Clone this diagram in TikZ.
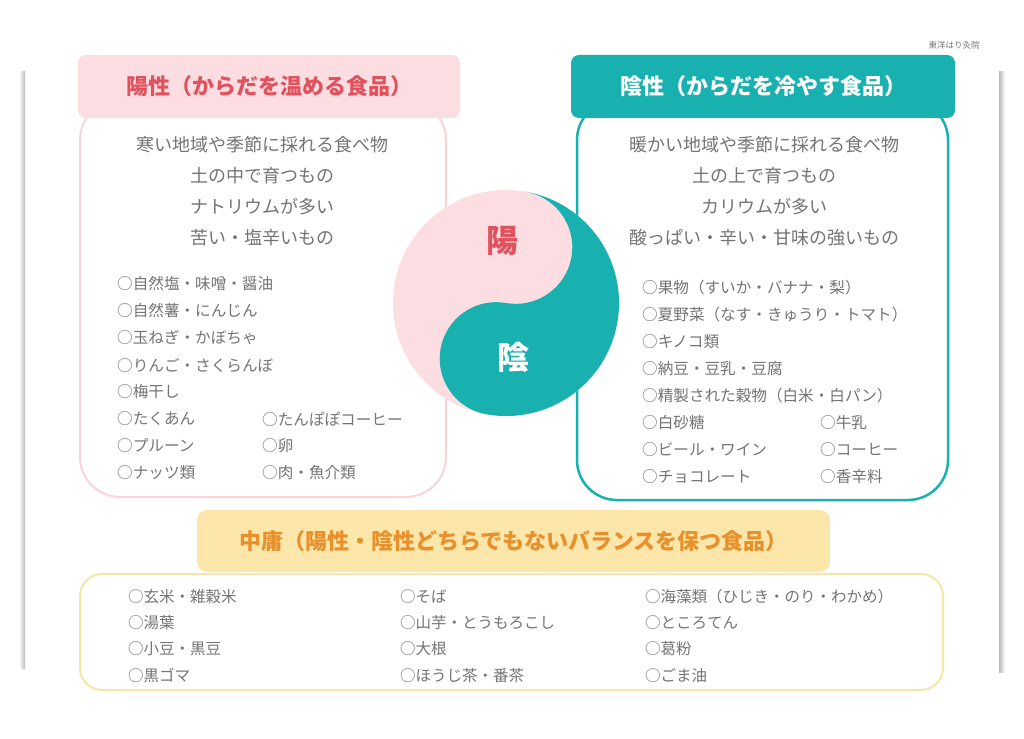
\documentclass[tikz,border=0pt]{standalone}
\usepackage{fontspec}
\setmainfont{Noto Sans CJK JP}
\definecolor{yangfill}{HTML}{FCDDE2}
\definecolor{yangline}{HTML}{F8D3DA}
\definecolor{yangtext}{HTML}{E0535E}
\definecolor{yinteal}{HTML}{18B1AF}
\definecolor{midfill}{HTML}{FDE6A9}
\definecolor{midline}{HTML}{F8E4A6}
\definecolor{midtext}{HTML}{E8902C}
\definecolor{textgray}{HTML}{747474}
\tikzset{
  headbox/.style={rounded corners=8pt,inner sep=0pt,font=\fontsize{22}{22}\selectfont\bfseries},
  bodybox/.style={draw,fill=white,line width=2pt,rounded corners=40pt,inner sep=0pt},
  leadline/.style={anchor=center,text=textgray,font=\fontsize{18}{18}\selectfont},
  item/.style={anchor=west,inner sep=0pt,text=textgray,font=\fontsize{15.6}{15.6}\selectfont},
}
\begin{document}
\begin{tikzpicture}[x=1pt,y=-1pt]
\useasboundingbox (0,0) rectangle (1024,738);
%% page shadow
\shade[left color=white,right color=gray!55] (19,72) rectangle (25,668);
\shade[left color=gray!55,right color=white] (999,72) rectangle (1005,672);
\node[anchor=center,text=textgray,font=\fontsize{8.5}{8.5}\selectfont] (brand) at (954,45) {東洋はり灸院};
%% Yang (left)
\node[bodybox,draw=yangline,minimum width=366pt,minimum height=397pt] (yangbody) at (263,298.5) {};
\node[headbox,fill=yangfill,text=yangtext,minimum width=382pt,minimum height=63pt] (yanghead) at (269,86.5) {陽性（からだを温める食品）};
\foreach \t [count=\i] in {寒い地域や季節に採れる食べ物,土の中で育つもの,ナトリウムが多い,苦い・塩辛いもの}
  \node[leadline] (yanglead\i) at (262,{114+31*\i}) {\t};
\foreach \t [count=\i] in {○自然塩・味噌・醤油,○自然薯・にんじん,○玉ねぎ・かぼちゃ,○りんご・さくらんぼ,○梅干し,○たくあん,○プルーン,○ナッツ類}
  \node[item] (yangitem\i) at (117,{257+27*\i}) {\t};
\foreach \t [count=\i from 6] in {○たんぽぽコーヒー,○卵,○肉・魚介類}
  \node[item] (yangitem\i b) at (262,{257+27*\i}) {\t};
%% Yin (right)
\node[bodybox,draw=yinteal,line width=2.5pt,minimum width=371pt,minimum height=400pt] (yinbody) at (762.5,300) {};
\node[headbox,fill=yinteal,text=white,minimum width=384pt,minimum height=63pt] (yinhead) at (763,86.5) {陰性（からだを冷やす食品）};
\foreach \t [count=\i] in {暖かい地域や季節に採れる食べ物,土の上で育つもの,カリウムが多い,酸っぱい・辛い・甘味の強いもの}
  \node[leadline] (yinlead\i) at (764,{114+31*\i}) {\t};
\foreach \t [count=\i] in {○果物（すいか・バナナ・梨）,○夏野菜（なす・きゅうり・トマト）,○キノコ類,○納豆・豆乳・豆腐,○精製された穀物（白米・白パン）,○白砂糖,○ビール・ワイン,○チョコレート}
  \node[item] (yinitem\i) at (642,{261+27*\i}) {\t};
\foreach \t [count=\i from 6] in {○牛乳,○コーヒー,○香辛料}
  \node[item] (yinitem\i b) at (820,{261+27*\i}) {\t};
%% yin-yang
\begin{scope}[shift={(506,303)},y=1pt,rotate=-10]
  \fill[yangfill] (0,0) circle (113pt);
  \fill[yinteal] (0,113) arc[start angle=90,end angle=-90,radius=113pt]
    arc[start angle=270,end angle=90,radius=56.5pt]
    arc[start angle=-90,end angle=90,radius=56.5pt] -- cycle;
\end{scope}
\node[text=yangtext,font=\fontsize{32}{32}\selectfont\bfseries] (yangmark) at (502,241) {陽};
\node[text=white,font=\fontsize{32}{32}\selectfont\bfseries] (yinmark) at (513,357) {陰};
%% middle (bottom)
\node[bodybox,draw=midline,rounded corners=22pt,minimum width=863pt,minimum height=116pt] (midbody) at (511.5,632) {};
\node[headbox,fill=midfill,text=midtext,rounded corners=10pt,minimum width=633pt,minimum height=62pt] (midhead) at (513.5,541) {中庸（陽性・陰性どちらでもないバランスを保つ食品）};
\foreach \t [count=\i] in {○玄米・雑穀米,○湯葉,○小豆・黒豆,○黒ゴマ}
  \node[item,font=\fontsize{15.5}{15.5}\selectfont] (miditem\i a) at (128,{570+26.3*\i}) {\t};
\foreach \t [count=\i] in {○そば,○山芋・とうもろこし,○大根,○ほうじ茶・番茶}
  \node[item,font=\fontsize{15.5}{15.5}\selectfont] (miditem\i b) at (400,{570+26.3*\i}) {\t};
\foreach \t [count=\i] in {○海藻類（ひじき・のり・わかめ）,○ところてん,○葛粉,○ごま油}
  \node[item,font=\fontsize{15.5}{15.5}\selectfont] (miditem\i c) at (645,{570+26.3*\i}) {\t};
\end{tikzpicture}
\end{document}
